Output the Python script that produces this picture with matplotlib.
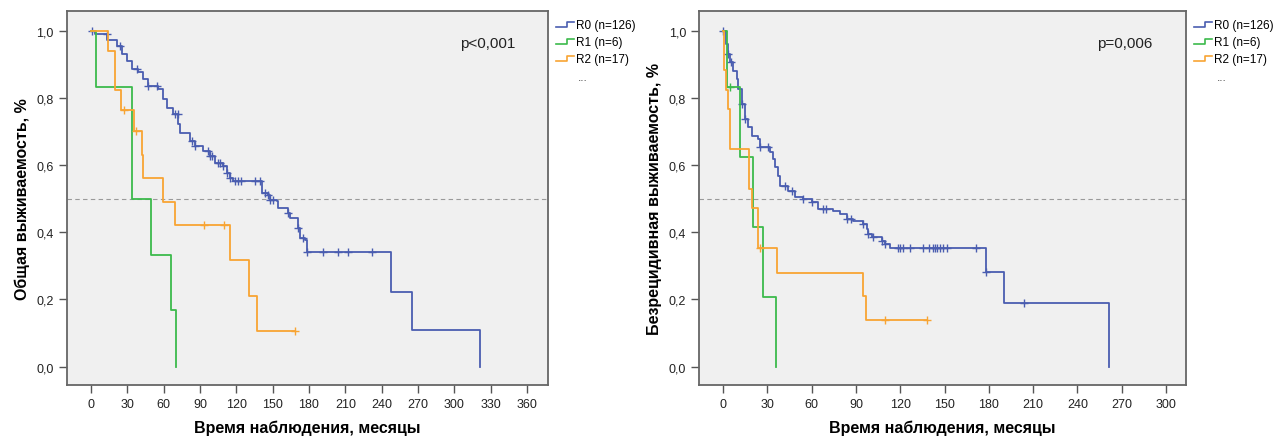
import matplotlib
matplotlib.use('Agg')
import matplotlib.pyplot as plt
import numpy as np
from matplotlib.legend_handler import HandlerBase
from matplotlib.lines import Line2D

plt.rcParams['font.family'] = ['Liberation Sans', 'DejaVu Sans']

groups = ['R0 (n=126)', 'R1 (n=6)', 'R2 (n=17)']
colors = ['#4a5db0', '#3cba4c', '#f8a433']

# общая выживаемость (OS): время смены шага, значение после шага, цензурирование
os_r0_t = [0, 3.3, 13, 21.2, 25.4, 29.5, 33.6, 39.1, 43.2, 47.3, 55.6, 59.7, 62.5, 68, 72.1, 73.5,
           81.8, 85.9, 92.7, 98.3, 102.4, 109.2, 112, 114.8, 117.5, 141, 146.4, 147.8, 153.3, 154.7,
           162.9, 164, 171.2, 172.6, 176.7, 178.1, 247.7, 264.8, 321.2]
os_r0_s = [1.0, 0.991, 0.972, 0.956, 0.931, 0.911, 0.886, 0.876, 0.856, 0.836, 0.826, 0.796, 0.771,
           0.751, 0.722, 0.697, 0.671, 0.657, 0.641, 0.627, 0.607, 0.597, 0.577, 0.562, 0.552, 0.518,
           0.512, 0.497, 0.492, 0.472, 0.457, 0.443, 0.413, 0.383, 0.377, 0.341, 0.222, 0.11, 0.0]
os_r0_c = [1, 12.9, 24, 37.7, 47.3, 54.2, 69.4, 72, 83.1, 85.9, 96.9, 98.6, 100, 105.1, 106.5, 109.2,
           112, 114.8, 118.5, 121.4, 124.2, 135.4, 139.5, 143.7, 146.4, 147.8, 150.5, 162.9, 171.2,
           175.3, 178.1, 191.8, 204.2, 212.5, 231.8]
os_r1_t = [0, 4.1, 33.6, 49.5, 66, 70.2]
os_r1_s = [1.0, 0.833, 0.5, 0.333, 0.167, 0.0]
os_r1_c = []
os_r2_t = [0, 14.3, 19.8, 24.8, 35.5, 41.9, 43.2, 59.7, 69.4, 114.8, 130.7, 136.8]
os_r2_s = [1.0, 0.941, 0.824, 0.765, 0.701, 0.631, 0.561, 0.491, 0.421, 0.316, 0.21, 0.105]
os_r2_c = [27.3, 37.2, 93.3, 109.8, 168.5]

# безрецидивная выживаемость (DFS)
dfs_r0_t = [0, 2.0, 3.6, 4.7, 7, 9.3, 10.4, 12.7, 14.9, 17.1, 19.4, 23.9, 25, 31.8, 34.1, 35.2, 37.4,
            38.6, 44.2, 48.7, 54.4, 60, 64.5, 74.7, 79.2, 83.7, 88.2, 95, 97.3, 98.4, 100.6, 107.4,
            109.7, 113.1, 178, 190, 261.3]
dfs_r0_s = [1.0, 0.96, 0.93, 0.906, 0.881, 0.856, 0.826, 0.782, 0.737, 0.712, 0.687, 0.677, 0.653,
            0.638, 0.618, 0.593, 0.568, 0.538, 0.524, 0.504, 0.499, 0.489, 0.469, 0.464, 0.454, 0.439,
            0.434, 0.424, 0.41, 0.395, 0.385, 0.375, 0.365, 0.352, 0.281, 0.189, 0.0]
dfs_r0_c = [0, 3.6, 5.4, 12.7, 14.9, 25, 30.7, 42, 46.6, 54.4, 60, 67.8, 70, 83.7, 87, 95, 98.4,
            101.7, 107.4, 109.7, 118.7, 119.9, 122.1, 126.6, 135.6, 139.7, 142.4, 143.5, 144.6,
            146.9, 149.1, 151.4, 171.3, 178.3, 203.8]
dfs_r1_t = [0, 2.5, 11.5, 20.5, 27.3, 36]
dfs_r1_s = [1.0, 0.833, 0.625, 0.417, 0.208, 0.0]
dfs_r1_c = [4.7]
dfs_r2_t = [0, 0.7, 2.0, 3.6, 4.5, 5.0, 17.8, 19.4, 23.9, 36.3, 95, 96.8]
dfs_r2_s = [1.0, 0.882, 0.824, 0.767, 0.707, 0.647, 0.529, 0.471, 0.353, 0.28, 0.21, 0.14]
dfs_r2_c = [25, 109.7, 137.9]

yticks = [0, 0.2, 0.4, 0.6, 0.8, 1.0]
ytick_labels = ['0,0', '0,2', '0,4', '0,6', '0,8', '1,0']


class StepHandler(HandlerBase):
    def create_artists(self, legend, orig_handle, xdescent, ydescent, width, height, fontsize, trans):
        x0 = -xdescent
        xm = x0 + width * 0.6
        y_lo = -ydescent + height * 0.2
        y_hi = -ydescent + height * 0.75
        ln = Line2D([x0, xm, xm, x0 + width], [y_lo, y_lo, y_hi, y_hi],
                    color=orig_handle.get_color(), lw=1.2, transform=trans)
        return [ln]


def km(ax, t, s, cens, color):
    t = list(t)
    s = list(s)
    if cens and max(cens) > t[-1]:
        t.append(max(cens))
        s.append(s[-1])
    line, = ax.step(t, s, where='post', color=color, lw=1.3)
    if cens:
        idx = np.searchsorted(t, cens, side='right') - 1
        ax.plot(cens, np.array(s)[idx], ls='none', marker='+', ms=6, mew=1.0, color=color)
    return line


fig = plt.figure(figsize=(12.79, 4.39), dpi=100)
ax1 = fig.add_axes([0.0524, 0.1207, 0.3761, 0.8513])
ax2 = fig.add_axes([0.5468, 0.1207, 0.3805, 0.8513])

panels = [
    (ax1, [(os_r0_t, os_r0_s, os_r0_c), (os_r1_t, os_r1_s, os_r1_c), (os_r2_t, os_r2_s, os_r2_c)],
     (-19.8, 377.4), np.arange(0, 361, 30), 'Общая выживаемость, %', 'p<0,001'),
    (ax2, [(dfs_r0_t, dfs_r0_s, dfs_r0_c), (dfs_r1_t, dfs_r1_s, dfs_r1_c), (dfs_r2_t, dfs_r2_s, dfs_r2_c)],
     (-16.0, 313.5), np.arange(0, 301, 30), 'Безрецидивная выживаемость, %', 'p=0,006'),
]

for ax, series, xlim, xt, ylab, ptxt in panels:
    ax.set_facecolor('#f0f0f0')
    ax.axhline(0.5, color='#9a9a9a', lw=0.8, ls=(0, (4, 3)), zorder=1)
    handles = []
    for (t, s, c), col in zip(series, colors):
        handles.append(km(ax, t, s, c, col))
    ax.set_xlim(*xlim)
    ax.set_ylim(-0.055, 1.058)
    ax.set_xticks(xt)
    ax.set_xticklabels([str(v) for v in xt])
    ax.set_yticks(yticks)
    ax.set_yticklabels(ytick_labels)
    ax.tick_params(axis='both', direction='out', length=6, width=1.0, color='#555555',
                   labelsize=9, labelcolor='#222222')
    for sp in ax.spines.values():
        sp.set_color('#666666')
        sp.set_linewidth(1.3)
    ax.set_xlabel('Время наблюдения, месяцы', fontsize=11.5, fontweight='bold', labelpad=7)
    ax.set_ylabel(ylab, fontsize=11.5, fontweight='bold', labelpad=5)
    ax.text(0.875, 0.915, ptxt, transform=ax.transAxes, ha='center', va='center', fontsize=11,
            color='#222222')
    ax.legend(handles, groups, handler_map={Line2D: StepHandler()}, loc='upper left',
              bbox_to_anchor=(1.012, 0.985), frameon=False, fontsize=8.5, handlelength=1.5,
              handletextpad=0.15, labelspacing=0.42, borderaxespad=0, borderpad=0.2)
    ax.text(1.073, 0.825, '...', transform=ax.transAxes, ha='center', va='center', fontsize=8.5,
            color='#444444')

fig.savefig('out.png', dpi=100)
